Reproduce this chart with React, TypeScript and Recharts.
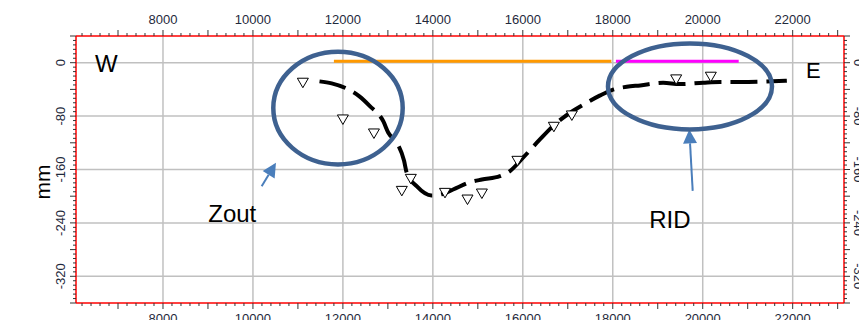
import { ComposedChart, XAxis, YAxis, Line, Scatter, ReferenceLine, ReferenceDot } from 'recharts';

const X_DOMAIN: [number, number] = [6066, 23141];
const Y_DOMAIN: [number, number] = [-360, 40];

// labelled ticks / gridlines
const xLabelTicks = [8000, 10000, 12000, 14000, 16000, 18000, 20000, 22000];
const yLabelTicks = [0, -80, -160, -240, -320];

// measured profile (thick dashed black curve)
const profileX = [11480, 11750, 12120, 12360, 12600, 12900, 13010, 13200, 13360, 13420, 13640, 13970, 14200, 14450, 14830, 15090, 15490, 15720, 16010, 16380, 16670, 17120, 17420, 17720, 17980, 18310, 18610, 19120, 19490, 20010, 20380, 20830, 21870];
const profileY = [-28, -31, -40, -50, -65, -88, -105, -120, -147, -165, -185, -199, -197, -190, -179, -175, -170, -162, -142, -115, -95, -72, -60, -49, -41, -36, -34, -30, -32, -30, -29, -29, -27];

// triangle survey points
const markerX = [11110, 12000, 12690, 13510, 13310, 14270, 14770, 15090, 15880, 16690, 17090, 19410, 20180];
const markerY = [-30, -85, -106, -174, -192, -195, -205, -196, -147, -96, -79, -25, -21];

// horizontal bars
const zoutBarX = [11800, 17970];
const ridBarX = [18070, 20800];
const barLevel = 2;

const xMinorTicks = Array.from({ length: 85 }, (_, i) => 6200 + i * 200);
const yMinorTicks = Array.from({ length: 61 }, (_, i) => 40 - (i * 40) / 6);

const FONT = '"Liberation Sans", Arial, sans-serif';
const TICK_TEXT = '#1f2a3c';
const ANNOT = '#3e6190';
const ARROW = '#4a7ebb';

const pts = (xs: number[], ys: number[]) => xs.map((x, i) => ({ x, y: ys[i] }));
const profile = pts(profileX, profileY);
const markers = pts(markerX, markerY);
const zoutBar = pts(zoutBarX, [barLevel, barLevel]);
const ridBar = pts(ridBarX, [barLevel, barLevel]);

const isYMajor = (v: number) => Math.abs(v / 40 - Math.round(v / 40)) < 1e-6;
const isYLabel = (v: number) => yLabelTicks.some((t) => Math.abs(t - v) < 1e-6);

function TopTick(props: any) {
  const { x, y, payload } = props;
  const v = payload.value;
  const len = v % 1000 === 0 ? 6 : 3;
  return (
    <g>
      <line x1={x} x2={x} y1={y} y2={y - len} stroke="#333" strokeWidth={1} />
      {xLabelTicks.includes(v) && (
        <text x={x} y={y - 12} textAnchor="middle" fontSize={13} fontFamily={FONT} fill={TICK_TEXT}>{v}</text>
      )}
    </g>
  );
}

function BottomTick(props: any) {
  const { x, y, payload } = props;
  const v = payload.value;
  const len = v % 1000 === 0 ? 6 : 3;
  return (
    <g>
      <line x1={x} x2={x} y1={y} y2={y + len} stroke="#333" strokeWidth={1} />
      {xLabelTicks.includes(v) && (
        <text x={x} y={y + 20} textAnchor="middle" fontSize={13} fontFamily={FONT} fill={TICK_TEXT}>{v}</text>
      )}
    </g>
  );
}

function LeftTick(props: any) {
  const { x, y, payload } = props;
  const v = payload.value;
  const len = isYMajor(v) ? 6 : 3;
  const tx = x - 11;
  return (
    <g>
      <line x1={x} x2={x - len} y1={y} y2={y} stroke="#333" strokeWidth={1} />
      {isYLabel(v) && (
        <text x={tx} y={y} transform={`rotate(-90, ${tx}, ${y})`} textAnchor="middle" fontSize={13} fontFamily={FONT} fill={TICK_TEXT}>
          {Math.round(v)}
        </text>
      )}
    </g>
  );
}

function RightTick(props: any) {
  const { x, y, payload } = props;
  const v = payload.value;
  const len = isYMajor(v) ? 6 : 3;
  const tx = x + 10;
  return (
    <g>
      <line x1={x} x2={x + len} y1={y} y2={y} stroke="#333" strokeWidth={1} />
      {isYLabel(v) && (
        <text x={tx} y={y} transform={`rotate(90, ${tx}, ${y})`} textAnchor="middle" fontSize={13} fontFamily={FONT} fill={TICK_TEXT}>
          {Math.round(v)}
        </text>
      )}
    </g>
  );
}

const triangle = (props: any) => {
  const { cx, cy } = props;
  return (
    <path d={`M${cx - 5.5},${cy - 4.5} h11 L${cx},${cy + 5} Z`} fill="#fff" stroke="#000" strokeWidth={1} />
  );
};

const ellipse = (rx: number, ry: number) => (props: any) => (
  <ellipse cx={props.cx} cy={props.cy} rx={rx} ry={ry} fill="none" stroke={ANNOT} strokeWidth={4.5} />
);

const label = (text: string, size: number) => (props: any) => (
  <text x={props.cx} y={props.cy} fontSize={size} fontFamily={FONT} fill="#000">{text}</text>
);

const arrow = (props: any) => {
  const { x1, y1, x2, y2 } = props;
  const dx = x2 - x1;
  const dy = y2 - y1;
  const l = Math.hypot(dx, dy) || 1;
  const ux = dx / l;
  const uy = dy / l;
  const hl = 14;
  const hw = 7;
  const bx = x2 - ux * hl;
  const by = y2 - uy * hl;
  return (
    <g>
      <line x1={x1} y1={y1} x2={bx} y2={by} stroke={ARROW} strokeWidth={2} />
      <path
        d={`M${x2},${y2} L${bx - uy * hw},${by + ux * hw} L${bx + uy * hw},${by - ux * hw} Z`}
        fill={ARROW}
      />
    </g>
  );
};

export default function App() {
  return (
    <div style={{ position: 'absolute', left: 0, top: 0, width: 859, height: 320, background: '#fff', overflow: 'hidden' }}>
      <ComposedChart width={859} height={320} margin={{ top: 0, right: 0, bottom: 0, left: 0 }}>
        <XAxis xAxisId="bottom" orientation="bottom" type="number" dataKey="x" domain={X_DOMAIN} allowDataOverflow
          ticks={xMinorTicks} interval={0} height={17} tickSize={0} tickMargin={0} tickLine={false}
          tick={<BottomTick />} axisLine={{ stroke: '#ff0000', strokeWidth: 1.5 }} />
        <XAxis xAxisId="top" orientation="top" type="number" dataKey="x" domain={X_DOMAIN} allowDataOverflow
          ticks={xMinorTicks} interval={0} height={36} tickSize={0} tickMargin={0} tickLine={false}
          tick={<TopTick />} axisLine={{ stroke: '#ff0000', strokeWidth: 1.5 }} />
        <YAxis yAxisId="left" orientation="left" type="number" dataKey="y" domain={Y_DOMAIN} allowDataOverflow
          ticks={yMinorTicks} interval={0} width={76} tickSize={0} tickMargin={0} tickLine={false}
          tick={<LeftTick />} axisLine={{ stroke: '#ff0000', strokeWidth: 1.5 }} />
        <YAxis yAxisId="right" orientation="right" type="number" dataKey="y" domain={Y_DOMAIN} allowDataOverflow
          ticks={yMinorTicks} interval={0} width={15} tickSize={0} tickMargin={0} tickLine={false}
          tick={<RightTick />} axisLine={{ stroke: '#ff0000', strokeWidth: 1.5 }} />

        {xLabelTicks.map((v) => (
          <ReferenceLine key={`gx${v}`} x={v} xAxisId="bottom" yAxisId="left" stroke="#c0c0c0" strokeWidth={1.5} />
        ))}
        {yLabelTicks.map((v) => (
          <ReferenceLine key={`gy${v}`} y={v} xAxisId="bottom" yAxisId="left" stroke="#c0c0c0" strokeWidth={1.5} />
        ))}

        <Line xAxisId="bottom" yAxisId="left" data={zoutBar} dataKey="y" stroke="#ff9900" strokeWidth={3}
          dot={false} isAnimationActive={false} />
        <Line xAxisId="bottom" yAxisId="left" data={ridBar} dataKey="y" stroke="#ff00ff" strokeWidth={3}
          dot={false} isAnimationActive={false} />
        <Line xAxisId="bottom" yAxisId="left" data={profile} dataKey="y" type="monotone" stroke="#000"
          strokeWidth={4} strokeDasharray="27 9" dot={false} isAnimationActive={false} />
        <Scatter xAxisId="top" yAxisId="right" data={markers} dataKey="y" shape={triangle} isAnimationActive={false} />

        <ReferenceDot xAxisId="bottom" yAxisId="left" x={11891} y={-68} shape={ellipse(64.7, 56.3)} />
        <ReferenceDot xAxisId="bottom" yAxisId="left" x={19717} y={-35.5} shape={ellipse(82, 43)} />
        <ReferenceLine xAxisId="bottom" yAxisId="left" segment={[{ x: 10194, y: -185 }, { x: 10512, y: -150 }]} shape={arrow} />
        <ReferenceLine xAxisId="bottom" yAxisId="left" segment={[{ x: 19777, y: -192 }, { x: 19701, y: -100 }]} shape={arrow} />

        <ReferenceDot xAxisId="bottom" yAxisId="left" x={6488} y={-13.5} shape={label('W', 24)} />
        <ReferenceDot xAxisId="bottom" yAxisId="left" x={22296} y={-22.5} shape={label('E', 22)} />
        <ReferenceDot xAxisId="bottom" yAxisId="left" x={9007} y={-239} shape={label('Zout', 24)} />
        <ReferenceDot xAxisId="bottom" yAxisId="left" x={18812} y={-247} shape={label('RID', 24)} />
      </ComposedChart>
      <div style={{
        position: 'absolute', left: 42, top: 182, transform: 'translate(-50%, -50%) rotate(-90deg)',
        fontFamily: FONT, fontSize: 21, color: '#000', whiteSpace: 'nowrap', lineHeight: 1,
      }}>mm</div>
    </div>
  );
}
